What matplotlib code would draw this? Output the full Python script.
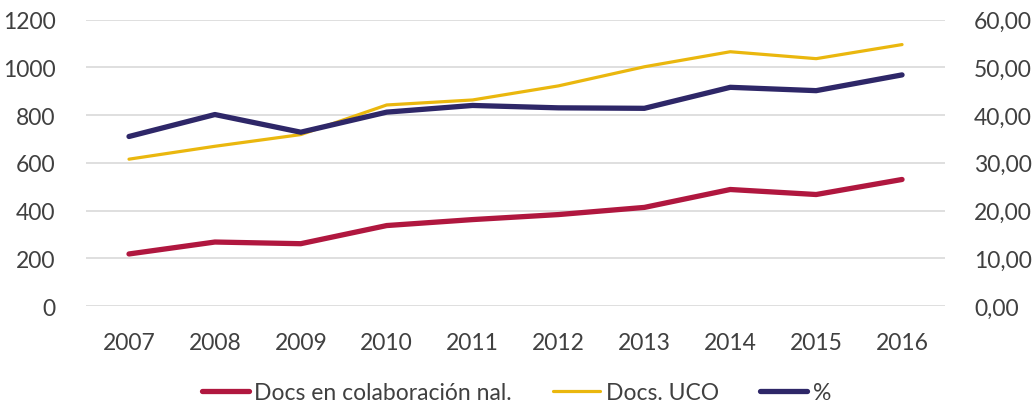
import matplotlib
matplotlib.use("Agg")
import matplotlib.pyplot as plt
from matplotlib.ticker import FuncFormatter

years = ["2007", "2008", "2009", "2010", "2011", "2012", "2013", "2014", "2015", "2016"]
docs_colab = [218, 268, 261, 337, 362, 383, 413, 488, 467, 530]
docs_uco = [615, 669, 718, 842, 863, 922, 1002, 1065, 1036, 1095]
pct = [35.5, 40.1, 36.4, 40.6, 42.0, 41.5, 41.4, 45.8, 45.1, 48.4]

RED = "#B0173F"
YEL = "#EAB70E"
PUR = "#2E2768"
TXT = "#404040"

plt.rcParams['font.family'] = ['Lato', 'DejaVu Sans']
plt.rcParams['font.weight'] = 'normal'

FS = 16.5

fig = plt.figure(figsize=(10.33, 4.06), dpi=100)
ax = fig.add_axes([0.0833, 0.2438, 0.8315, 0.7057])
ax2 = ax.twinx()

x = list(range(len(years)))
l1, = ax.plot(x, docs_colab, color=RED, lw=3.8, solid_capstyle='round', label="Docs en colaboración nal.", zorder=3)
l2, = ax.plot(x, docs_uco, color=YEL, lw=2.3, solid_capstyle='round', label="Docs. UCO", zorder=3)
l3, = ax2.plot(x, pct, color=PUR, lw=3.8, solid_capstyle='round', label="%", zorder=3)

ax.set_xlim(-0.5, 9.5)
ax.set_ylim(0, 1200)
ax2.set_ylim(0, 60)
ax.set_yticks(range(0, 1201, 200))
ax2.set_yticks(range(0, 61, 10))
ax2.yaxis.set_major_formatter(FuncFormatter(lambda v, p: f"{v:.2f}".replace('.', ',')))
ax.set_xticks(x)
ax.set_xticklabels(years)

ax.grid(axis='y', color='#D9D9D9', lw=1.2, zorder=0)
ax.set_axisbelow(True)
for a in (ax, ax2):
    for s in a.spines.values():
        s.set_visible(False)
    a.tick_params(length=0, labelsize=FS, labelcolor=TXT)
ax.tick_params(axis='y', pad=22)
ax.tick_params(axis='x', pad=19)
ax2.tick_params(axis='y', pad=21)

fig.legend(handles=[l1, l2, l3], loc='center', bbox_to_anchor=(0.5, 0.03), ncol=3,
           frameon=False, fontsize=FS, handlelength=2.05, handletextpad=0.25,
           columnspacing=1.8, labelcolor=TXT, borderpad=0.1)

fig.savefig("out.png", dpi=100)
